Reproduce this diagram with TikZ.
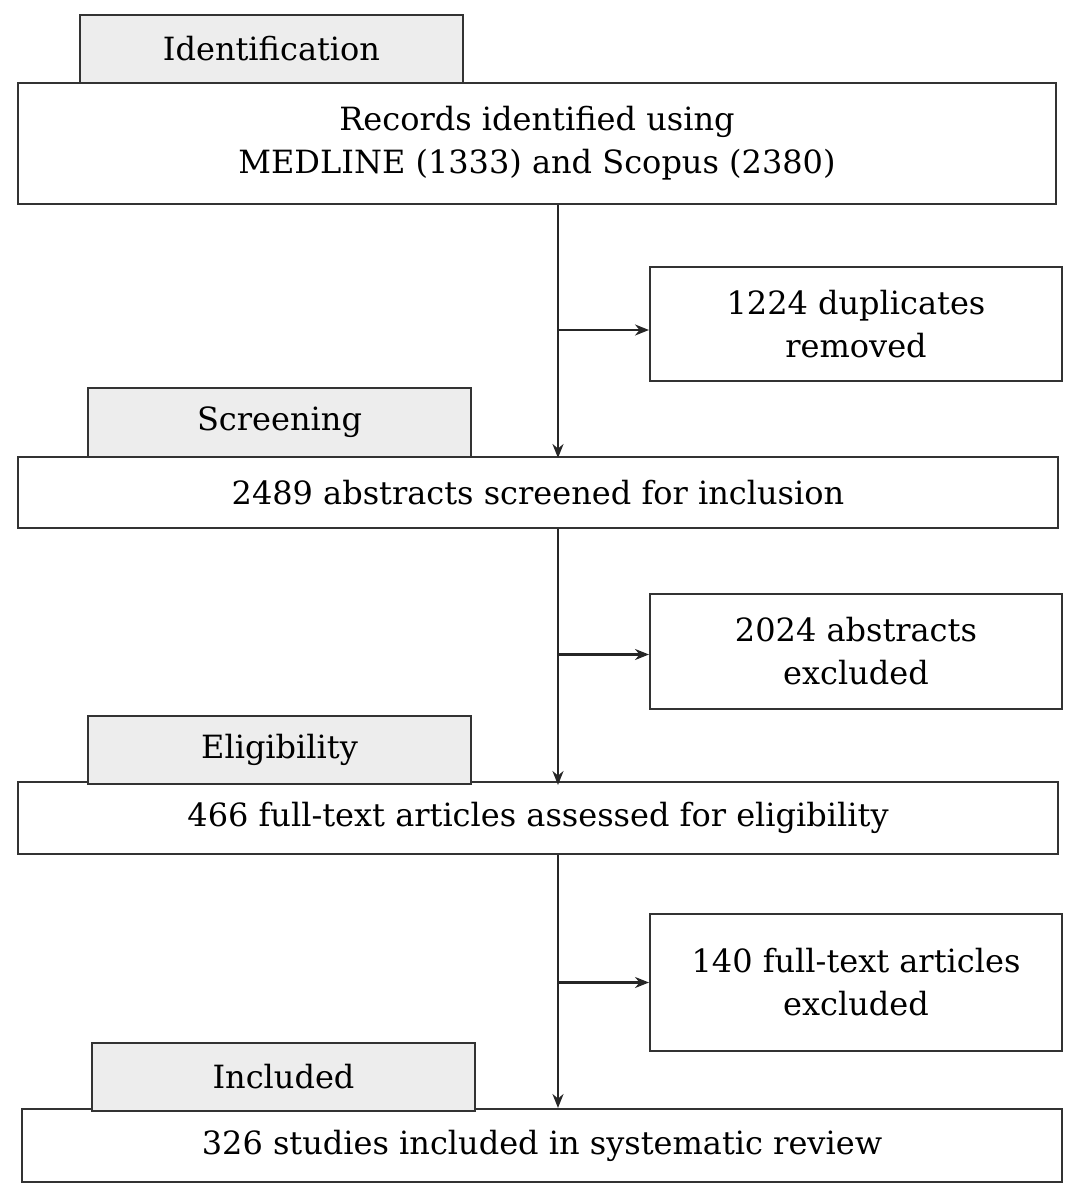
\documentclass[tikz,border=0pt]{standalone}
\usepackage{fontspec}
\setmainfont{DejaVu Serif}
\usetikzlibrary{arrows.meta}
\begin{document}
\begin{tikzpicture}[x=1pt,y=-1pt,
  every node/.style={font=\fontsize{32}{43}\selectfont},
  box/.style={draw=black!80, line width=2pt, fill=white, align=center, inner sep=0pt},
  tab/.style={draw=black!80, line width=2pt, fill=black!7, inner sep=0pt},
  arr/.style={draw=black!85, line width=2.2pt, -{Stealth[length=14pt,width=11pt]}}]
\useasboundingbox (0,0) rectangle (1080,1196);
\coordinate (t) at (558,0);
% main boxes
\node[box, minimum width=1038pt, minimum height=121pt] (b1) at (537,143.5) {Records identified using\\MEDLINE (1333) and Scopus (2380)};
\node[box, minimum width=1040pt, minimum height=71pt] (b2) at (538,492.5) {2489 abstracts screened for inclusion};
\node[box, minimum width=1040pt, minimum height=72pt] (b3) at (538,818) {466 full-text articles assessed for eligibility};
\node[box, minimum width=1040pt, minimum height=73pt] (b4) at (542,1145.5) {326 studies included in systematic review};
% tabs
\node[tab, minimum width=383pt, minimum height=68pt] (l1) at (271.5,49) {Identification};
\node[tab, minimum width=383pt, minimum height=69pt] (l2) at (279.5,422.5) {Screening};
\node[tab, minimum width=383pt, minimum height=68pt] (l3) at (279.5,750) {Eligibility};
\node[tab, minimum width=383pt, minimum height=68pt] (l4) at (283.5,1077) {Included};
% side boxes
\node[box, minimum width=412pt, minimum height=114pt] (s1) at (856,324) {1224 duplicates\\removed};
\node[box, minimum width=412pt, minimum height=115pt] (s2) at (856,651.5) {2024 abstracts\\excluded};
\node[box, minimum width=412pt, minimum height=137pt] (s3) at (856,982.5) {140 full-text articles\\excluded};
% trunk arrows
\draw[arr] (b1.south -| t) -- (l2.south -| t);
\draw[arr] (b2.south -| t) -- (l3.south -| t);
\draw[arr] (b3.south -| t) -- (b4.north -| t);
% branch arrows
\draw[arr] ([yshift=-6pt]s1.west -| t) -- ([yshift=-6pt]s1.west);
\draw[arr] ([yshift=-3pt]s2.west -| t) -- ([yshift=-3pt]s2.west);
\draw[arr] (t |- s3.west) -- (s3.west);
\end{tikzpicture}
\end{document}
